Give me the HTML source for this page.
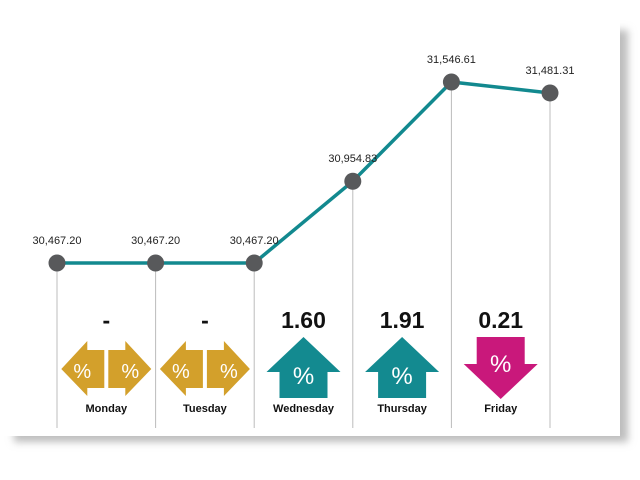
<!DOCTYPE html>
<html><head><meta charset="utf-8"><style>
html,body{margin:0;padding:0;background:#fff;}
svg{display:block;font-family:"Liberation Sans",sans-serif;}
</style></head><body>
<svg id="chart" width="640" height="480" viewBox="0 0 640 480">
<defs>
<filter id="sh" x="-10%" y="-10%" width="130%" height="130%"><feGaussianBlur stdDeviation="4"/></filter>
</defs>
<rect x="14" y="30" width="614" height="412" fill="#bdbdbd" filter="url(#sh)"/>
<rect x="0" y="0" width="620" height="436" fill="#fff"/>
<g id="plot"></g>
</svg>
<script>
const days = ["Monday","Tuesday","Wednesday","Thursday","Friday","Close"];
const values = [30467.20,30467.20,30467.20,30954.83,31546.61,31481.31];
const valueLabels = ["30,467.20","30,467.20","30,467.20","30,954.83","31,546.61","31,481.31"];
const changes = ["-","-","1.60","1.91","0.21"];
const directions = ["flat","flat","up","up","down"];

const NS="http://www.w3.org/2000/svg";
const g=document.getElementById('plot');
function xs(i){return 57+i*98.6;}
function ys(v){return 263-(v-30467.2)*(181/1079.41);}
function mk(tag,attrs,parent){const e=document.createElementNS(NS,tag);for(const k in attrs)e.setAttribute(k,attrs[k]);(parent||g).appendChild(e);return e;}
const colors={flat:"#d3a02b",up:"#138a90",down:"#c9187b"};

// vertical guide lines
values.forEach((v,i)=>{
  const l=mk('line',{x1:xs(i),x2:xs(i),y1:ys(v),y2:428,stroke:"#bcbcbc","stroke-width":1});
  
  
});
// line
const pl=mk('polyline',{points:values.map((v,i)=>xs(i)+","+ys(v)).join(" "),fill:"none",stroke:"#12898f","stroke-width":3.5});


values.forEach((v,i)=>{
  const c=mk('circle',{cx:xs(i),cy:ys(v),r:8.5,fill:"#58595b"});
  
  
  const t=mk('text',{x:xs(i),y:ys(v)-19,"text-anchor":"middle","font-size":11,fill:"#222"});
  t.textContent=valueLabels[i];
  
  
});
// day panels
changes.forEach((ch,i)=>{
  const cx=(xs(i)+xs(i+1))/2;
  const col=colors[directions[i]];
  const t=mk('text',{x:cx,y:328,"text-anchor":"middle","font-size":23,"font-weight":"bold",fill:"#111"});
  t.textContent=ch;
  
  
  const a=mk('g',{});
  
  
  if(directions[i]==="flat"){
    mk('polygon',{points:`${cx-45},369 ${cx-19},341 ${cx-19},350 ${cx-2},350 ${cx-2},388 ${cx-19},388 ${cx-19},396`,fill:col},a);
    mk('polygon',{points:`${cx+45},369 ${cx+19},341 ${cx+19},350 ${cx+2},350 ${cx+2},388 ${cx+19},388 ${cx+19},396`,fill:col},a);
    [cx-24,cx+24].forEach(px=>{const p=mk('text',{x:px,y:378,"text-anchor":"middle","font-size":20,fill:"#fff"},a);p.textContent="%";});
  } else if(directions[i]==="up"){
    mk('polygon',{points:`${cx},337 ${cx+37},372 ${cx+24},372 ${cx+24},398 ${cx-24},398 ${cx-24},372 ${cx-37},372`,fill:col},a);
    const p=mk('text',{x:cx,y:384,"text-anchor":"middle","font-size":24,fill:"#fff"},a);p.textContent="%";
  } else {
    mk('polygon',{points:`${cx-24},337 ${cx+24},337 ${cx+24},364 ${cx+37},364 ${cx},399 ${cx-37},364 ${cx-24},364`,fill:col},a);
    const p=mk('text',{x:cx,y:372,"text-anchor":"middle","font-size":24,fill:"#fff"},a);p.textContent="%";
  }
  const d=mk('text',{x:cx,y:412,"text-anchor":"middle","font-size":11,"font-weight":"bold",fill:"#111"});
  d.textContent=days[i];
  
  
});
</script>
</body></html>
